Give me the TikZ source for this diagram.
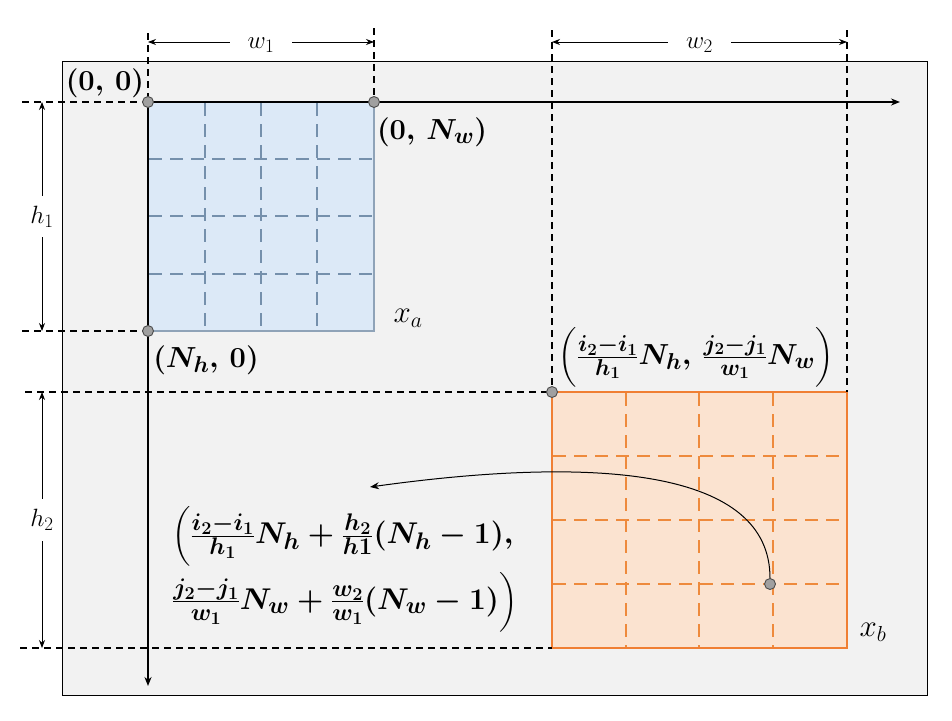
\documentclass[tikz,border=0pt]{standalone}
\usepackage{fix-cm}
\usepackage{amsmath}
\usetikzlibrary{arrows.meta}
\DeclareMathSizes{29}{29}{23}{17}
\DeclareMathSizes{30}{30}{24}{18}
\DeclareMathSizes{25}{25}{19}{14}
\definecolor{panelbg}{HTML}{F2F2F2}
\definecolor{bluefill}{HTML}{DCE9F7}
\definecolor{bluegrid}{HTML}{7590AC}
\definecolor{blueedge}{HTML}{8FA3B8}
\definecolor{orfill}{HTML}{FBE3D0}
\definecolor{oredge}{HTML}{F07F33}
\definecolor{orgrid}{HTML}{EE8A3C}
\definecolor{dotgray}{HTML}{A0A0A0}
\begin{document}
\begin{tikzpicture}[x=1pt,y=-1pt,
  extline/.style={dash pattern=on 7pt off 5pt, line width=1.2pt},
  dimarrow/.style={{Stealth[length=8pt,width=6pt]}-{Stealth[length=8pt,width=6pt]}, line width=0.8pt},
  dimlabel/.style={fill=white, inner sep=3pt, font=\fontsize{25}{30}\selectfont},
  ptdot/.style={circle, fill=dotgray, draw=black!70, line width=0.9pt, minimum size=11pt, inner sep=0pt},
  biglabel/.style={font=\fontsize{29}{35}\selectfont\boldmath, inner sep=0pt},
  varlabel/.style={font=\fontsize{31}{36}\selectfont, inner sep=0pt},
  bluegridline/.style={bluegrid, dash pattern=on 13pt off 8pt, line width=1.1pt},
  orgridline/.style={orgrid, dash pattern=on 13pt off 8pt, line width=1.1pt},
  axis/.style={line width=1.7pt, -{Stealth[length=9pt,width=7pt]}}
]
\useasboundingbox (0,0) rectangle (952,720);
\fill[white] (0,0) rectangle (952,720);
% panel
\draw[fill=panelbg, line width=0.9pt] (62,61) rectangle (927,695);

% blue block x_a
\fill[bluefill] (148,102) rectangle (374,331);
\foreach \x in {205,261,317} \draw[bluegridline] (\x,103) -- (\x,330);
\foreach \y in {159,216,274} \draw[bluegridline] (149,\y) -- (373,\y);
\draw[blueedge, line width=1.4pt] (374,102) -- (374,331) -- (148,331);

% orange block x_b
\fill[orfill] (552,392) rectangle (847,648);
\foreach \x in {626,699,773} \draw[orgridline] (\x,393) -- (\x,647);
\foreach \y in {456,520,584} \draw[orgridline] (553,\y) -- (846,\y);
\draw[oredge, line width=1.6pt] (552,392) rectangle (847,648);

% named coordinates
\coordinate (xend) at (900,102);
\coordinate (yend) at (148,686);
\coordinate (t1) at (148,33);
\coordinate (t2) at (374,28);
\coordinate (t3) at (552,30);
\coordinate (t4) at (847,30);
\coordinate (l1) at (22,102);
\coordinate (l2) at (22,331);
\coordinate (l3) at (25,392);
\coordinate (l4) at (20,648);
\coordinate (c4) at (847,392);
\coordinate (c5) at (552,648);
\coordinate (arrtip) at (370,487);

% axes
\draw[axis] (148,102) -- (xend);
\draw[axis] (148,102) -- (yend);

% extension lines
\draw[extline] (t1) -- (148,102);
\draw[extline] (t2) -- (374,102);
\draw[extline] (t3) -- (552,392);
\draw[extline] (t4) -- (c4);
\draw[extline] (l1) -- (148,102);
\draw[extline] (l2) -- (148,331);
\draw[extline] (l3) -- (552,392);
\draw[extline] (l4) -- (c5);

% dimension arrows
\coordinate (w1a) at (148,42); \coordinate (w1b) at (374,42);
\coordinate (w2a) at (552,42); \coordinate (w2b) at (847,42);
\coordinate (h1a) at (42,102); \coordinate (h1b) at (42,331);
\coordinate (h2a) at (42,392); \coordinate (h2b) at (42,648);
\draw[dimarrow] (w1a) -- (w1b) node[midway, dimlabel, inner xsep=18pt, yshift=-3pt] {$w_1$};
\draw[dimarrow] (w2a) -- (w2b) node[midway, dimlabel, inner xsep=18pt, yshift=-3pt] {$w_2$};
\draw[dimarrow] (h1a) -- (h1b) node[midway, dimlabel, inner ysep=10pt] {$h_1$};
\draw[dimarrow] (h2a) -- (h2b) node[midway, dimlabel, inner ysep=10pt] {$h_2$};

% points
\node[ptdot] (p00) at (148,102) {};
\node[ptdot] (p0n) at (374,102) {};
\node[ptdot] (pn0) at (148,331) {};
\node[ptdot] (pb) at (552,392) {};
\node[ptdot] (pq) at (770,584) {};

% curved arrow
\draw[line width=1pt, -{Stealth[length=9pt,width=7pt]}] (pq) .. controls (770,470) and (600,455) .. (arrtip);

% labels
\node[biglabel] (L00) at (105,83) {$(0,\,0)$};
\node[biglabel] (L0n) at (432,132) {$(0,\,N_w)$};
\node[biglabel] (Ln0) at (206,360) {$(N_h,\,0)$};
\node[varlabel] (xa) at (408,318) {$x_a$};
\node[varlabel] (xb) at (873,632) {$x_b$};
\node[biglabel] (Lb) at (696,357) {$\Big(\frac{i_2-i_1}{h_1}N_h,\,\frac{j_2-j_1}{w_1}N_w\Big)$};
\node[biglabel, font=\fontsize{30}{36}\selectfont\boldmath, align=left, anchor=west] (Lq) at (172,569) {$\Big(\frac{i_2-i_1}{h_1}N_h+\frac{h_2}{h1}(N_h-1),$\\[5pt]$\frac{j_2-j_1}{w_1}N_w+\frac{w_2}{w_1}(N_w-1)\Big)$};
\end{tikzpicture}
\end{document}
